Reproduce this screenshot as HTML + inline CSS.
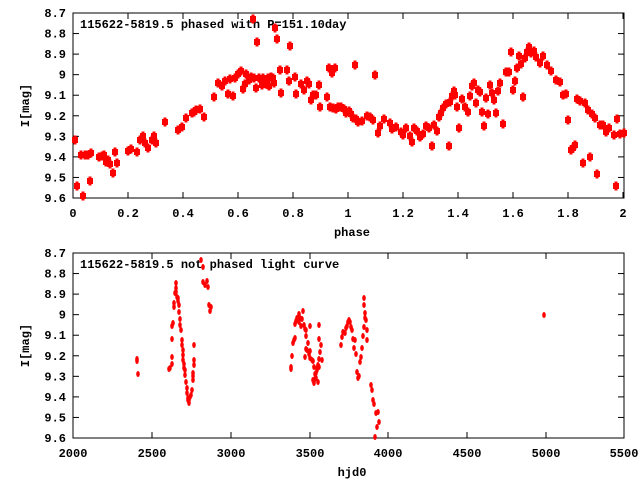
<!DOCTYPE html>
<html><head><meta charset="utf-8"><style>
html,body{margin:0;padding:0;background:#fff;}
svg{display:block;font-family:"Liberation Mono","DejaVu Sans Mono",monospace;font-weight:bold;font-size:12px;}
</style></head><body>
<svg id="s" width="640" height="480" xmlns="http://www.w3.org/2000/svg">
<rect x="0" y="0" width="640" height="480" fill="#fff"/>
<g id="g"></g>
</svg>
<script>
var g=document.getElementById('g'),h='';
function frame(top,bot,yl,xl,xpos,title,xt){
  h+='<rect x="73" y="'+top+'" width="551" height="'+(bot-top)+'" fill="none" stroke="#000" stroke-width="1"/>';
  for(var i=0;i<10;i++){var y=top+(bot-top)*i/9;
    h+='<line x1="73" x2="79" y1="'+y+'" y2="'+y+'" stroke="#000"/><line x1="618" x2="624" y1="'+y+'" y2="'+y+'" stroke="#000"/>';
    h+='<text x="66" y="'+(y+4)+'" text-anchor="end">'+yl[i]+'</text>';}
  for(var j=0;j<xl.length;j++){var x=xpos[j];
    h+='<line x1="'+x+'" x2="'+x+'" y1="'+bot+'" y2="'+(bot-6)+'" stroke="#000"/><line x1="'+x+'" x2="'+x+'" y1="'+top+'" y2="'+(top+6)+'" stroke="#000"/>';
    h+='<text x="'+x+'" y="'+(bot+19)+'" text-anchor="middle">'+xl[j]+'</text>';}
  h+='<text x="80" y="'+(top+15)+'">'+title+'</text>';
  h+='<text x="352" y="'+(bot+38)+'" text-anchor="middle">'+xt+'</text>';
  var cy=(top+bot)/2;
  h+='<text transform="translate(29,'+cy+') rotate(-90)" text-anchor="middle">I[mag]</text>';
}
var yl=['8.7','8.8','8.9','9','9.1','9.2','9.3','9.4','9.5','9.6'];
frame(13,198,yl,['0','0.2','0.4','0.6','0.8','1','1.2','1.4','1.6','1.8','2'],[73,128,183,238,293,348,403,458,513,568,623],'115622-5819.5 phased with P=151.10day','phase');
frame(253,438,yl,['2000','2500','3000','3500','4000','4500','5000','5500'],[73,152,231,310,388,467,546,624],'115622-5819.5 not phased light curve','hjd0');
var A=[75,140,77,186,81,155,83,196,85,155,88,155,90,181,91,153,99,157,102,156,104,155,106,162,108,160,110,164,113,173,115,152,117,163,128,151,131,149,137,152,140,140,143,136,145,143,148,148,152,140,154,136,156,143,165,122,178,130,182,127,186,118,192,113,194,112,196,110,200,109,204,117,214,97,218,83,222,86,225,81,228,94,230,79,233,96,235,78,238,74,241,71,243,89,245,84,246,74,249,80,251,77,253,19,254,78,256,88,257,42,259,78,262,85,263,78,266,84,268,78,269,86,271,77,273,78,274,83,275,28,277,39,280,70,281,93,287,70,289,81,290,46,295,77,296,94,301,84,304,90,307,81,309,84,311,100,313,95,316,95,319,85,320,107,327,97,330,107,333,108,336,109,338,107,341,107,344,109,346,113,349,111,329,68,332,73,335,68,
351,114,353,118,355,65,356,119,358,122,362,121,367,116,370,117,373,120,375,75,378,133,380,126,384,119,390,123,392,129,396,127,401,132,403,135,406,128,410,136,412,142,414,128,417,131,420,137,423,134,426,126,429,128,432,146,434,125,437,131,439,117,441,113,443,108,446,104,449,146,450,102,452,96,454,91,455,95,457,107,459,128,462,99,465,107,468,112,470,96,472,86,474,83,476,103,478,90,480,92,482,112,484,126,486,98,488,114,490,85,492,93,494,100,496,113,498,91,500,83,503,124,506,72,509,72,511,52,513,90,515,81,517,68,519,56,521,64,523,97,525,58,527,52,529,47,531,53,534,51,536,57,540,63,543,56,547,65,551,71,556,80,560,82,563,95,566,94,568,120,571,150,573,148,575,145,577,99,580,101,583,163,585,103,588,110,590,157,592,114,595,118,597,174,600,125,603,125,606,132,609,128,614,135,616,186,617,119,620,134,624,133];
for(var i=0;i<A.length;i+=2){var x=A[i],y=A[i+1];
  h+='<rect x="'+(x-3)+'" y="'+(y-3)+'" width="6" height="6" fill="#f00"/><rect x="'+(x-1.5)+'" y="'+(y-4.5)+'" width="3" height="9" fill="#f00"/>';}
var B=[137,359,137,361,138,374,
169,369,170,368,172,364,172,357,172,339,173,323,172,326,174,303,174,307,175,293,176,283,176,288,176,292,177,297,178,298,178,301,179,305,179,312,180,319,180,325,181,330,182,340,182,345,183,350,183,355,183,360,184,364,184,368,185,370,185,375,186,382,187,388,187,393,188,398,188,400,189,403,189,400,190,397,191,395,192,390,193,380,193,376,193,373,194,365,194,360,194,345,
201,260,203,267,203,282,205,285,207,281,208,287,209,305,210,311,211,307,
291,367,291,369,292,356,293,343,294,340,295,338,295,324,296,321,297,318,298,318,299,314,299,322,300,318,301,326,302,319,303,311,304,325,305,329,306,330,306,336,310,326,310,358,305,357,306,349,307,350,308,343,309,354,310,351,312,360,313,361,314,367,315,374,316,373,317,370,318,365,319,367,319,359,320,352,321,345,322,360,315,379,314,383,313,380,318,382,316,378,317,368,319,339,319,325,
341,345,342,337,343,332,345,333,346,328,347,326,348,322,349,320,350,322,351,327,352,330,353,339,354,348,355,340,356,354,357,372,358,378,359,376,360,362,361,357,362,348,363,336,364,327,364,298,365,313,366,320,367,340,367,330,364,305,365,318,
371,385,372,390,373,400,374,404,376,413,377,427,378,412,375,437,379,422,544,315];
for(var i=0;i<B.length;i+=2){h+='<ellipse cx="'+B[i]+'" cy="'+B[i+1]+'" rx="1.8" ry="3" fill="#f00"/>';}
g.innerHTML=h;
</script>
</body></html>
